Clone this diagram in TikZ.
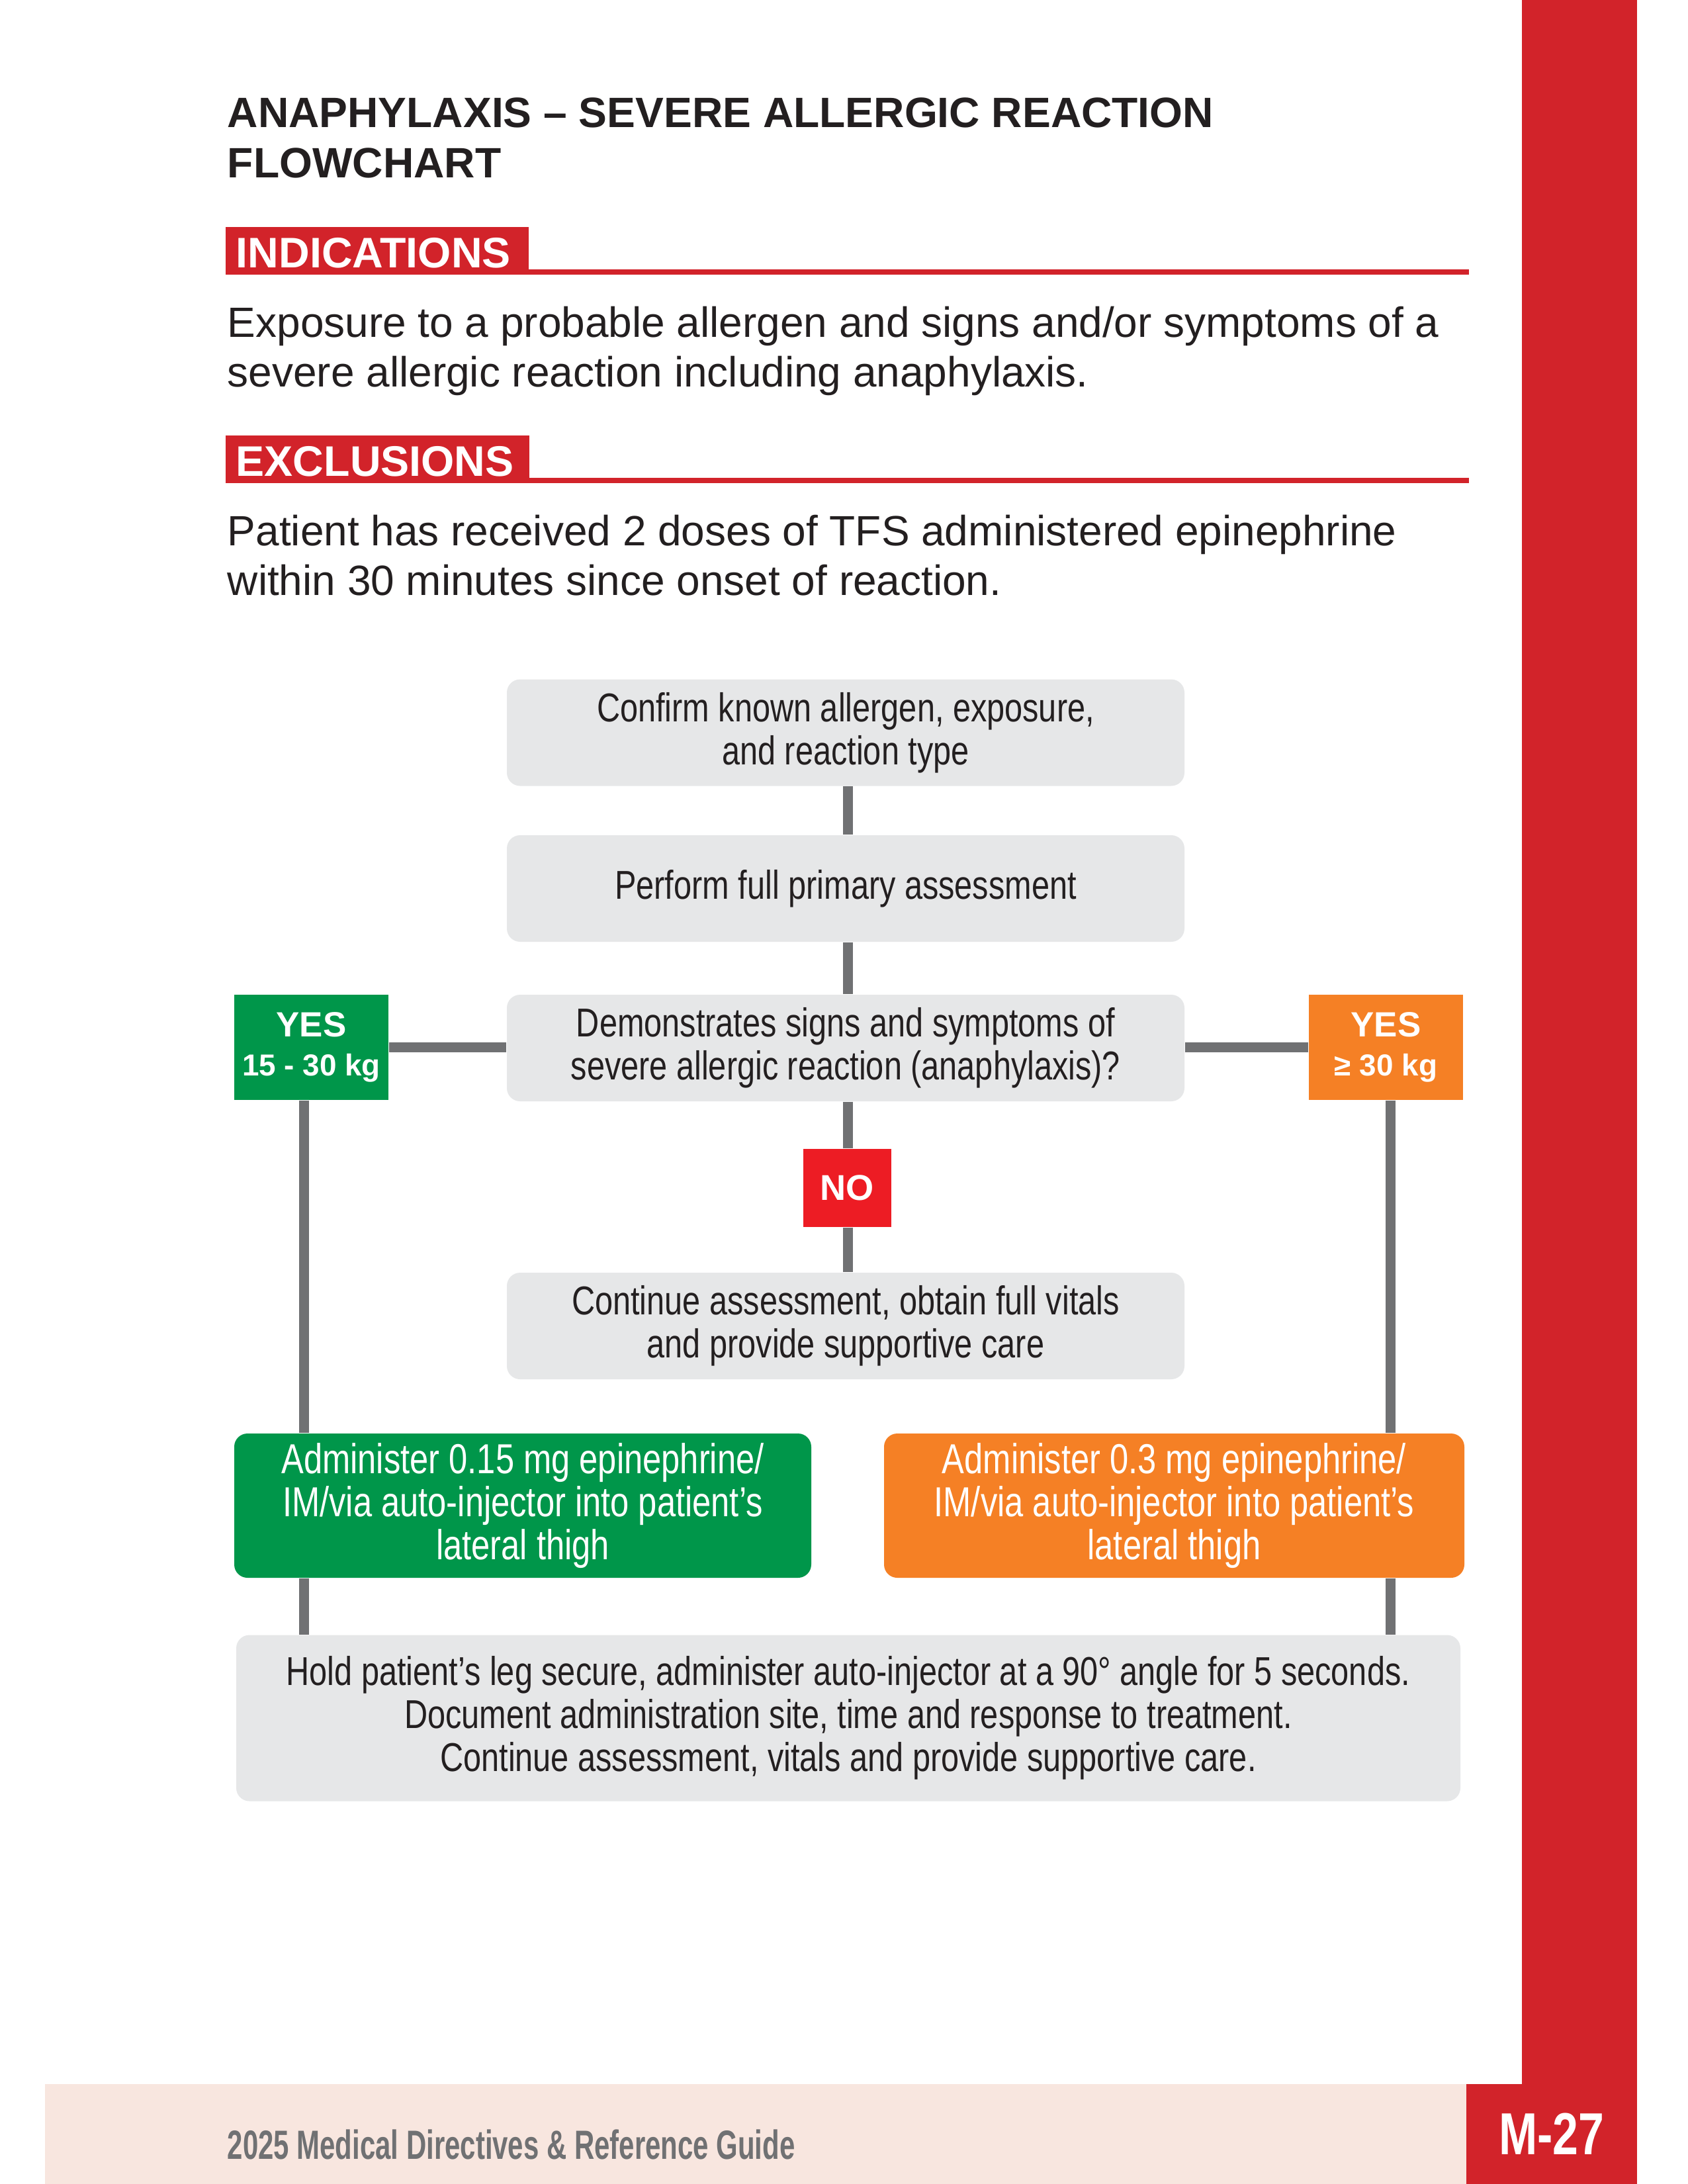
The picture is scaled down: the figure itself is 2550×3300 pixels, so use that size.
\documentclass[tikz,border=0pt]{standalone}
\usepackage{fontspec}
\setmainfont{Liberation Sans}
\newfontfamily\condfont[FakeStretch=0.8]{Liberation Sans}
\newfontfamily\footfont[FakeStretch=0.68]{Liberation Sans}
\newfontfamily\pagefont[FakeStretch=0.78]{Liberation Sans}
\newcommand\pxu{0.24pt}
\definecolor{brandred}{HTML}{D2232A}
\definecolor{nored}{HTML}{ED1C24}
\definecolor{footbg}{HTML}{F8E6DF}
\definecolor{boxgray}{HTML}{E6E7E8}
\definecolor{linegray}{HTML}{707173}
\definecolor{inkdark}{HTML}{231F20}
\definecolor{dosegreen}{HTML}{00964A}
\definecolor{doseorange}{HTML}{F58025}
\begin{document}
\begin{tikzpicture}[x=0.24pt,y=-0.24pt,
  stepbox/.style={fill=boxgray, rounded corners=20*\pxu, inner sep=0pt,
    minimum width=1024*\pxu, minimum height=161*\pxu, align=center,
    text=inkdark, font=\condfont\fontsize{14.6}{15.6}\selectfont},
  dosebox/.style={rounded corners=20*\pxu, inner sep=0pt,
    minimum height=218*\pxu, align=center, text=white,
    font=\condfont\fontsize{15.2}{15.6}\selectfont},
  tagbox/.style={inner sep=0pt, align=center, text=white},
  link/.style={draw=linegray, line width=15*\pxu},
  heading/.style={anchor=base west, inner sep=0pt, text=white,
    font=\bfseries\fontsize{15.5}{17}\selectfont},
  bodytext/.style={anchor=base west, inner sep=0pt, text=inkdark,
    font=\fontsize{15.35}{18}\selectfont}]
\useasboundingbox (0,0) rectangle (2550,3300);
\fill[white] (0,0) rectangle (2550,3300);

% side bar and footer band
\fill[brandred] (2300,0) rectangle (2474,3300);
\fill[footbg] (68,3149) rectangle (2216,3300);
\fill[brandred] (2216,3149) rectangle (2474,3300);
\node[anchor=base west, inner sep=0pt, text=linegray,
  font=\footfont\bfseries\fontsize{14.8}{17}\selectfont] (foot) at (343,3262)
  {2025 Medical Directives \& Reference Guide};
\node[anchor=base, inner sep=0pt, text=white,
  font=\pagefont\bfseries\fontsize{21.5}{24}\selectfont] (page) at (2345,3255) {M-27};

% title
\node[anchor=base west, inner sep=0pt, text=inkdark,
  font=\bfseries\fontsize{15.4}{18}\selectfont] (title1) at (343,192)
  {ANAPHYLAXIS – SEVERE ALLERGIC REACTION};
\node[anchor=base west, inner sep=0pt, text=inkdark,
  font=\bfseries\fontsize{15.4}{18}\selectfont] (title2) at (343,268) {FLOWCHART};

% indications
\fill[brandred] (341,343) rectangle (799,415);
\fill[brandred] (799,407) rectangle (2220,415);
\node[heading] (ind) at (356,404) {INDICATIONS};
\node[bodytext] (ind1) at (343,509)
  {Exposure to a probable allergen and signs and/or symptoms of a};
\node[bodytext] (ind2) at (343,584)
  {severe allergic reaction including anaphylaxis.};

% exclusions
\fill[brandred] (341,658) rectangle (800,730);
\fill[brandred] (800,722) rectangle (2220,730);
\node[heading] (exc) at (356,719) {EXCLUSIONS};
\node[bodytext] (exc1) at (343,824)
  {Patient has received 2 doses of TFS administered epinephrine};
\node[bodytext] (exc2) at (343,899)
  {within 30 minutes since onset of reaction.};

% flowchart boxes
\node[stepbox] (confirm) at (1278,1107)
  {Confirm known allergen, exposure,\\and reaction type};
\node[stepbox] (primary) at (1278,1342.5) {Perform full primary assessment};
\node[stepbox] (signs) at (1278,1583.5)
  {Demonstrates signs and symptoms of\\severe allergic reaction (anaphylaxis)?};
\node[stepbox] (cont) at (1278,2003.5)
  {Continue assessment, obtain full vitals\\and provide supportive care};

\node[tagbox, fill=dosegreen, minimum width=233*\pxu, minimum height=159*\pxu]
  (yesl) at (470.5,1582.5)
  {{\bfseries\fontsize{12.7}{15}\selectfont YES}\\[2pt]{\bfseries\fontsize{11}{13}\selectfont 15 - 30 kg}};
\node[tagbox, fill=doseorange, minimum width=233*\pxu, minimum height=159*\pxu]
  (yesr) at (2094.5,1582.5)
  {{\bfseries\fontsize{12.7}{15}\selectfont YES}\\[2pt]{\bfseries\fontsize{11}{13}\selectfont ≥ 30 kg}};
\node[tagbox, fill=nored, minimum width=133*\pxu, minimum height=118*\pxu,
  font=\bfseries\fontsize{13}{15}\selectfont] (no) at (1280.5,1795) {NO};

\node[dosebox, fill=dosegreen, minimum width=872*\pxu] (dosel) at (790,2275)
  {Administer 0.15 mg epinephrine/\\IM/via auto-injector into patient’s\\lateral thigh};
\node[dosebox, fill=doseorange, minimum width=877*\pxu] (doser) at (1774.5,2275)
  {Administer 0.3 mg epinephrine/\\IM/via auto-injector into patient’s\\lateral thigh};

\node[stepbox, minimum width=1850*\pxu, minimum height=251*\pxu] (final) at (1282,2596)
  {Hold patient’s leg secure, administer auto-injector at a 90° angle for 5 seconds.\\
   Document administration site, time and response to treatment.\\
   Continue assessment, vitals and provide supportive care.};

% connectors
\coordinate (lx) at (459,0);
\coordinate (rx) at (2101,0);
\coordinate (cx) at (1281,0);
\draw[link] (confirm.south -| cx) -- (primary.north -| cx);
\draw[link] (primary.south -| cx) -- (signs.north -| cx);
\draw[link] (signs.south -| cx) -- (no.north -| cx);
\draw[link] (no.south -| cx) -- (cont.north -| cx);
\draw[link] (yesl.east) -- (signs.west |- yesl.east);
\draw[link] (yesr.west) -- (signs.east |- yesr.west);
\draw[link] (yesl.south -| lx) -- (dosel.north -| lx);
\draw[link] (dosel.south -| lx) -- (final.north -| lx);
\draw[link] (yesr.south -| rx) -- (doser.north -| rx);
\draw[link] (doser.south -| rx) -- (final.north -| rx);
\end{tikzpicture}
\end{document}
